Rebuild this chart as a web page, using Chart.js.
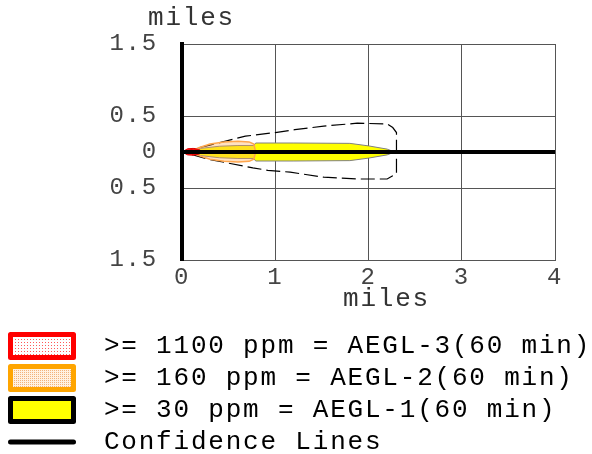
<!DOCTYPE html>
<html>
<head>
<meta charset="utf-8">
<script src="https://cdn.jsdelivr.net/npm/chart.js@4/dist/chart.umd.min.js"></script>
<style>
  html, body { margin: 0; padding: 0; background: #ffffff; }
  #wrap { width: 592px; height: 454px; position: relative; }
</style>
</head>
<body>
<div id="wrap"><canvas id="c" width="592" height="454"></canvas></div>
<script>
// ---- data (miles) ----
const xTickValues = [0, 1, 2, 3, 4];
const yTickValues = [-1.5, -0.5, 0, 0.5, 1.5];
const axisTitleText = 'miles';

const legendLabels = [
  ' >= 1100 ppm = AEGL-3(60 min)',
  ' >= 160 ppm = AEGL-2(60 min)',
  ' >= 30 ppm = AEGL-1(60 min)',
  ' Confidence Lines'
];

// centerline (downwind axis)
const centerX = [0, 4];
const centerY = [0, 0];

// AEGL-3 zone (red)
const redX = [0.0, 0.06, 0.12, 0.18, 0.23];
const redUpperY = [0, 0.045, 0.05, 0.035, 0];
const redLowerY = [0, -0.04, -0.045, -0.03, 0];

// AEGL-2 zone (orange)
const orangeX = [0.08, 0.18, 0.3, 0.45, 0.6, 0.72, 0.77, 0.79];
const orangeUpperY = [0, 0.06, 0.11, 0.14, 0.15, 0.14, 0.11, 0];
const orangeLowerY = [0, -0.05, -0.1, -0.13, -0.14, -0.13, -0.1, 0];

// AEGL-1 zone (yellow)
const yellowX = [0.04, 0.2, 0.4, 0.6, 0.77, 0.79, 1.2, 1.8, 2.0, 2.2, 2.28];
const yellowUpperY = [0, 0.05, 0.08, 0.09, 0.09, 0.125, 0.125, 0.12, 0.085, 0.04, 0];
const yellowLowerY = [0, -0.05, -0.08, -0.09, -0.09, -0.125, -0.125, -0.12, -0.085, -0.04, 0];

// confidence lines (closed loop)
const confX = [0, 0.15, 0.31, 0.68, 1.0, 1.21, 1.52, 1.88, 2.2, 2.26, 2.3, 2.3, 2.3, 2.3, 2.26, 2.2, 1.88, 1.52, 1.16, 0.92, 0.76, 0.28, 0.12, 0];
const confY = [0, 0.05, 0.1, 0.22, 0.27, 0.31, 0.36, 0.4, 0.39, 0.34, 0.27, 0.03, -0.06, -0.3, -0.33, -0.375, -0.375, -0.35, -0.28, -0.255, -0.22, -0.1, -0.04, 0];

function pts(xs, ys) { return xs.map((x, i) => ({ x: x, y: ys[i] })); }

const canvas = document.getElementById('c');
const ctx = canvas.getContext('2d');

function makePattern(bg, dot, step) {
  const c = document.createElement('canvas');
  c.width = step; c.height = step;
  const g = c.getContext('2d');
  g.fillStyle = bg; g.fillRect(0, 0, step, step);
  g.fillStyle = dot; g.fillRect(0, 0, 1, 1);
  return ctx.createPattern(c, 'repeat');
}
const redPattern = makePattern('#ffffff', '#ff5a5a', 3);
const orangePattern = makePattern('#fff1e0', '#f2b27a', 2);

const FONT = 'Liberation Mono, Courier New, monospace';
const SPACING = '1.8px';

const spacingPlugin = {
  id: 'spacing',
  beforeUpdate(chart) { chart.ctx.letterSpacing = SPACING; },
  beforeLayout(chart) { chart.ctx.letterSpacing = SPACING; },
  afterLayout(chart) {
    const lg = chart.legend;
    if (lg) { lg.top += 11; lg.bottom += 11; }
  },
  beforeDraw(chart) { chart.ctx.letterSpacing = SPACING; },
  afterDraw(chart) {
    const a = chart.chartArea;
    const c = chart.ctx;
    c.save();
    c.letterSpacing = SPACING;
    c.fillStyle = '#333';
    c.font = '26px ' + FONT;
    c.textAlign = 'left';
    c.textBaseline = 'alphabetic';
    c.fillText(axisTitleText, a.left - 34, a.top - 19);
    c.fillText(axisTitleText, a.left + 161, a.bottom + 46);
    c.restore();
  }
};

const common = { showLine: true, pointRadius: 0, pointHoverRadius: 0, tension: 0 };

new Chart(ctx, {
  type: 'scatter',
  data: {
    datasets: [
      Object.assign({}, common, { label: 'center', data: pts(centerX, centerY), borderColor: '#000', borderWidth: 4, order: 0 }),
      Object.assign({}, common, { label: legendLabels[0], data: pts(redX, redUpperY), borderColor: '#e00000', backgroundColor: 'rgba(255,0,0,0.9)', borderWidth: 1, fill: 'origin', order: 1 }),
      Object.assign({}, common, { label: 'redLower', data: pts(redX, redLowerY), borderColor: '#e00000', backgroundColor: 'rgba(255,0,0,0.9)', borderWidth: 1, fill: 'origin', order: 1 }),
      Object.assign({}, common, { label: legendLabels[1], data: pts(orangeX, orangeUpperY), borderColor: '#ffa64d', backgroundColor: 'rgba(255,170,80,0.35)', borderWidth: 1.5, fill: 'origin', order: 2 }),
      Object.assign({}, common, { label: 'orangeLower', data: pts(orangeX, orangeLowerY), borderColor: '#ffa64d', backgroundColor: 'rgba(255,170,80,0.35)', borderWidth: 1.5, fill: 'origin', order: 2 }),
      Object.assign({}, common, { label: legendLabels[2], data: pts(yellowX, yellowUpperY), borderColor: '#808080', backgroundColor: '#ffff00', borderWidth: 1, fill: 'origin', order: 3 }),
      Object.assign({}, common, { label: 'yellowLower', data: pts(yellowX, yellowLowerY), borderColor: '#808080', backgroundColor: '#ffff00', borderWidth: 1, fill: 'origin', order: 3 }),
      Object.assign({}, common, { label: legendLabels[3], data: pts(confX, confY), borderColor: '#000', borderWidth: 1.2, borderDash: [14, 5], fill: false, order: 4 })
    ]
  },
  options: {
    responsive: false,
    animation: false,
    events: [],
    layout: { padding: { left: 4.5, top: 44, right: 0, bottom: 0 } },
    scales: {
      x: {
        type: 'linear', min: 0, max: 4,
        afterBuildTicks(s) { s.ticks = xTickValues.map(v => ({ value: v })); },
        afterFit(s) { s.height = 56; },
        grid: { color: '#555', lineWidth: 1, drawTicks: false },
        border: { display: true, color: '#555', width: 1 },
        ticks: { padding: 3, color: '#444', font: { family: FONT, size: 24 }, maxRotation: 0, autoSkip: false }
      },
      y: {
        type: 'linear', min: -1.5, max: 1.5,
        afterBuildTicks(s) { s.ticks = yTickValues.map(v => ({ value: v })); },
        afterFit(s) { s.width = 177.5; },
        grid: { color: '#555', lineWidth: 1, drawTicks: false },
        border: { display: true, color: '#000', width: 4 },
        ticks: { padding: 24, color: '#444', font: { family: FONT, size: 24 }, autoSkip: false,
          callback: (v) => String(Math.abs(v)) }
      },
      yRight: {
        type: 'linear', position: 'right', min: -1.5, max: 1.5, display: true,
        afterFit(s) { s.width = 37; },
        grid: { display: false, drawTicks: false },
        border: { display: false },
        ticks: { display: false }
      }
    },
    plugins: {
      tooltip: { enabled: false },
      title: { display: false },
      legend: {
        display: true,
        position: 'bottom',
        align: 'start',
        labels: {
          usePointStyle: true,
          pointStyleWidth: 63,
          boxHeight: 23,
          padding: 6,
          color: '#333',
          font: { family: FONT, size: 26 },
          generateLabels() {
            return [
              { text: legendLabels[0], fillStyle: redPattern, strokeStyle: '#ff0000', lineWidth: 5, pointStyle: 'rect', lineJoin: 'round', datasetIndex: 1 },
              { text: legendLabels[1], fillStyle: orangePattern, strokeStyle: '#ffa500', lineWidth: 5, pointStyle: 'rect', lineJoin: 'round', datasetIndex: 3 },
              { text: legendLabels[2], fillStyle: '#ffff00', strokeStyle: '#000000', lineWidth: 5, pointStyle: 'rect', lineJoin: 'round', datasetIndex: 5 },
              { text: legendLabels[3], fillStyle: '#000000', strokeStyle: '#000000', lineWidth: 5, pointStyle: 'line', lineCap: 'round', datasetIndex: 7 }
            ];
          }
        }
      }
    }
  },
  plugins: [spacingPlugin]
});
</script>
</body>
</html>
